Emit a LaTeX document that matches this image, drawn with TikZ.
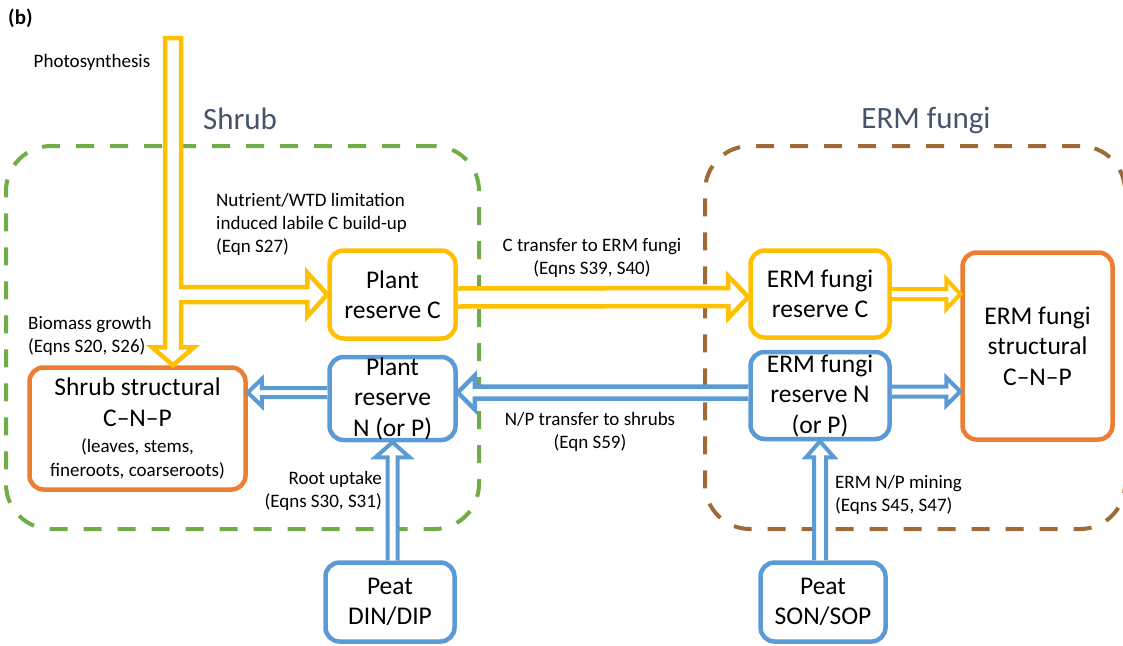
\documentclass[tikz,border=0pt]{standalone}
\usepackage{fontspec}
\setmainfont{Carlito}
\usepackage{xcolor}
\usepackage{tikz}
\usetikzlibrary{positioning, calc}

\definecolor{cyellow}{HTML}{FFC000}
\definecolor{cblue}{HTML}{5B9BD5}
\definecolor{corange}{HTML}{ED7D31}
\definecolor{cgreen}{HTML}{70AD47}
\definecolor{cbrown}{HTML}{9E6A38}
\definecolor{ctitle}{HTML}{44546A}

\begin{document}
\begin{tikzpicture}[
    x=1pt, y=1pt,
    % Define the style for the pools
    pool/.style={
        rectangle,
        draw=#1,
        line width=4.5pt,
        fill=white,
        align=center,
        inner sep=0pt,
        rounded corners=14pt,
        font=\fontsize{25.5}{30.5}\selectfont
    },
    % Define the style for the dashed groups
    zone/.style={
        rectangle,
        draw=#1,
        line width=4pt,
        dash pattern=on 18pt off 16pt,
        rounded corners=45pt
    },
    % Define style for the flux labels
    note/.style={
        align=left,
        inner sep=0pt,
        font=\fontsize{19}{23}\selectfont
    },
    heading/.style={
        text=ctitle,
        inner sep=0pt,
        font=\fontsize{31}{37}\selectfont
    },
    % Define style for hollow arrows
    flow/.style={
        draw=#1,
        fill=white,
        line width=4.5pt
    },
    hollow/.style n args={3}{
        to path={let \p1=($(\tikztotarget)!#3!(\tikztostart)$) in
            ($(\tikztostart)!#1!90:(\tikztotarget)$) -- ($(\p1)!#1!90:(\tikztotarget)$)
            -- ($(\p1)!#2!90:(\tikztotarget)$) -- (\tikztotarget)
            -- ($(\p1)!#2!-90:(\tikztotarget)$) -- ($(\p1)!#1!-90:(\tikztotarget)$)
            -- ($(\tikztostart)!#1!-90:(\tikztotarget)$)}
    }
]
\useasboundingbox (0,0) rectangle (1123,-645);

\node (panel) [anchor=base west, inner sep=0pt, font=\fontsize{21}{25}\selectfont\bfseries] at (8,-24) {(b)};

% 1. Dashed groups
\node (shrubzone) [zone=cgreen, minimum width=473pt, minimum height=383pt] at (242.5,-337.5) {};
\node (ermzone) [zone=cbrown, minimum width=420pt, minimum height=383pt] at (915,-337.5) {};
\node (shrubtitle) [heading, anchor=base] at (240,-129) {Shrub};
\node (ermtitle) [heading, anchor=base] at (926,-128) {ERM fungi};

% 2. Shrub pools
\node (prc) [pool=cyellow, minimum width=126pt, minimum height=88pt] at (392.5,-294.5) {Plant\\reserve C};
\node (prn) [pool=cblue, minimum width=126pt, minimum height=83pt, below=14pt of prc] {Plant\\reserve\\N (or P)};
\node (shrub) [pool=corange, minimum width=216pt, minimum height=122pt] at (137.5,-428.5)
    {Shrub structural\\C–N–P\\[-4pt]{\fontsize{19}{23}\selectfont (leaves, stems,}\\[-7pt]{\fontsize{19}{23}\selectfont fineroots, coarseroots)}};
\node (din) [pool=cblue, minimum width=129pt, minimum height=79pt] at (390,-602) {Peat\\DIN/DIP};

% 3. ERM fungi pools
\node (frc) [pool=cyellow, minimum width=139pt, minimum height=87pt] at (820,-294) {ERM fungi\\reserve C};
\node (frn) [pool=cblue, minimum width=139pt, minimum height=87pt, below=10pt of frc] {ERM fungi\\reserve N\\(or P)};
\node (fstr) [pool=corange, minimum width=150pt, minimum height=187pt] at (1037.5,-346) {ERM fungi\\structural\\C–N–P};
\node (son) [pool=cblue, minimum width=125pt, minimum height=79pt] at (823,-602) {Peat\\SON/SOP};

% Photosynthesis input, split to reserve C and biomass growth
\coordinate (photo) at (173,-38);
\draw [flow=cyellow] ($(photo)+(-8,0)$) -- ($(photo)+(8,0)$)
    -- ($(photo |- prc.west)+(8,7.5)$) -- ($(prc.west)+(-20,7.5)$) -- ($(prc.west)+(-20,22)$)
    -- (prc.west)
    -- ($(prc.west)+(-20,-22)$) -- ($(prc.west)+(-20,-7.5)$) -- ($(photo |- prc.west)+(8,-7.5)$)
    -- ($(photo |- shrub.north)+(8,18)$) -- ($(photo |- shrub.north)+(21,18)$)
    -- (photo |- shrub.north)
    -- ($(photo |- shrub.north)+(-21,18)$) -- ($(photo |- shrub.north)+(-8,18)$) -- cycle;

% Draw arrows to show fluxes
\draw [flow=cyellow] ([yshift=-3pt]prc.east) to[hollow={9pt}{21pt}{20pt}] ([yshift=-3pt]frc.west);
\draw [flow=cyellow, line width=4pt] (frc.east) to[hollow={5pt}{15pt}{14pt}] (frc.east -| fstr.west);
\draw [flow=cblue, line width=4pt] ([yshift=4pt]frn.east) to[hollow={5pt}{14pt}{14pt}] ([yshift=4pt]frn.east -| fstr.west);
\draw [flow=cblue] ([yshift=3pt]frn.west) to[hollow={6pt}{17pt}{17pt}] ([yshift=3pt]frn.west -| prn.east);
\draw [flow=cblue, line width=4pt] ([yshift=6pt]prn.west) to[hollow={4.5pt}{13.5pt}{14pt}] ([yshift=6pt]prn.west -| shrub.east);
\draw [flow=cblue, line width=4pt] (prn.south |- din.north) to[hollow={5pt}{17pt}{15pt}] (prn.south);
\draw [flow=cblue, line width=4pt] (frn.south |- son.north) to[hollow={6pt}{14pt}{16pt}] (frn.south);

% Flux labels
\node (photolabel) [note, anchor=north] at (92,-54) {Photosynthesis};
\node (limitlabel) [note, anchor=north west] at (216,-193) {Nutrient/WTD limitation\\induced labile C build-up\\(Eqn S27)};
\node (growthlabel) [note, anchor=north west] at (28,-316) {Biomass growth\\(Eqns S20, S26)};
\node (ctranslabel) [note, align=center, anchor=north] at (592,-238) {C transfer to ERM fungi\\(Eqns S39, S40)};
\node (nptranslabel) [note, align=center, anchor=north] at (590,-412) {N/P transfer to shrubs\\(Eqn S59)};
\node (uptakelabel) [note, align=right, anchor=north east] at (382,-471) {Root uptake\\(Eqns S30, S31)};
\node (mininglabel) [note, anchor=north west] at (835,-475) {ERM N/P mining\\(Eqns S45, S47)};

\end{tikzpicture}
\end{document}
